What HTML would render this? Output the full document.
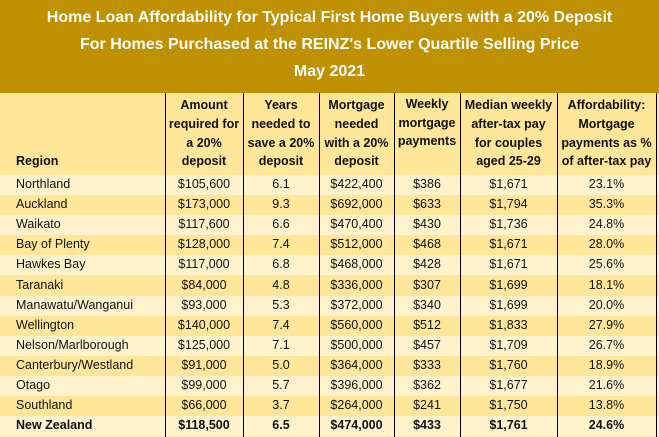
<!DOCTYPE html>
<html><head><meta charset="utf-8"><style>
body{margin:0;width:659px;height:437px;overflow:hidden;background:#FFE699;font-family:"Liberation Sans",sans-serif;position:relative}
#title{position:absolute;left:0;top:0;width:659px;height:93px;background:#BF9000;color:#fff;font-weight:bold;font-size:16px;text-align:center}
#title div{position:absolute;left:0;width:659px}
.c{position:absolute;font-size:12.5px;color:#111;white-space:nowrap}
.h{position:absolute;font-size:12.5px;font-weight:bold;color:#111;text-align:center;line-height:18.7px}
.row{position:absolute;left:0;width:659px}
.vl{position:absolute;top:93px;height:344px;width:1px;background:#000}
</style></head><body>
<div id="title">
<div style="top:9px">Home Loan Affordability for Typical First Home Buyers with a 20% Deposit</div>
<div style="top:36px">For Homes Purchased at the REINZ's Lower Quartile Selling Price</div>
<div style="top:63px">May 2021</div>
</div>
<div id="tbl"></div>
<script>
const regions=["Northland","Auckland","Waikato","Bay of Plenty","Hawkes Bay","Taranaki","Manawatu/Wanganui","Wellington","Nelson/Marlborough","Canterbury/Westland","Otago","Southland","New Zealand"];
const deposits=["$105,600","$173,000","$117,600","$128,000","$117,000","$84,000","$93,000","$140,000","$125,000","$91,000","$99,000","$66,000","$118,500"];
const years=["6.1","9.3","6.6","7.4","6.8","4.8","5.3","7.4","7.1","5.0","5.7","3.7","6.5"];
const mortgages=["$422,400","$692,000","$470,400","$512,000","$468,000","$336,000","$372,000","$560,000","$500,000","$364,000","$396,000","$264,000","$474,000"];
const weekly=["$386","$633","$430","$468","$428","$307","$340","$512","$457","$333","$362","$241","$433"];
const pay=["$1,671","$1,794","$1,736","$1,671","$1,671","$1,699","$1,699","$1,833","$1,709","$1,760","$1,677","$1,750","$1,761"];
const afford=["23.1%","35.3%","24.8%","28.0%","25.6%","18.1%","20.0%","27.9%","26.7%","18.9%","21.6%","13.8%","24.6%"];
const headers=[["Region"],["Amount","required for","a 20%","deposit"],["Years","needed to","save a 20%","deposit"],["Mortgage","needed","with a 20%","deposit"],["Weekly","mortgage","payments"],["Median weekly","after-tax pay","for couples","aged 25-29"],["Affordability:","Mortgage","payments as %","of after-tax pay"]];
const cols=[0,165,243,319,394,460,557,656];
const tbl=document.getElementById('tbl');
const top0=175,rh=20.1;
for(let i=0;i<regions.length;i++){
  const r=document.createElement('div');r.className='row';
  
  
  r.style.top=(top0+i*rh)+'px';r.style.height=rh+'px';
  r.style.background=i%2==0?'#FFF2CC':'#FFE699';
  if(i==regions.length-1)r.style.fontWeight='bold';
  tbl.appendChild(r);
  const vals=[regions[i],deposits[i],years[i],mortgages[i],weekly[i],pay[i],afford[i]];
  vals.forEach((v,j)=>{
    const c=document.createElement('div');c.className='c';
    
    
    c.textContent=v;c.style.top='2px';
    if(j==0){c.style.left='16px';}
    else{c.style.left=cols[j]+'px';c.style.width=(cols[j+1]-cols[j])+'px';c.style.textAlign='center';}
    r.appendChild(c);
  });
}
headers.forEach((h,j)=>{
  const d=document.createElement('div');d.className='h';
  
  
  d.innerHTML=h.join('<br>');
  const n=h.length;
  d.style.top=(175-4-n*18.7)+'px';
  if(j==0){d.style.left='16px';d.style.textAlign='left';}
  else{d.style.left=cols[j]+'px';d.style.width=(cols[j+1]-cols[j])+'px';}
  if(j==4)d.style.top=(95)+'px';
  tbl.appendChild(d);
});
for(let j=1;j<cols.length;j++){
  const l=document.createElement('div');l.className='vl';
  
  
  l.style.left=cols[j]+'px';tbl.appendChild(l);
}
</script>
</body></html>
